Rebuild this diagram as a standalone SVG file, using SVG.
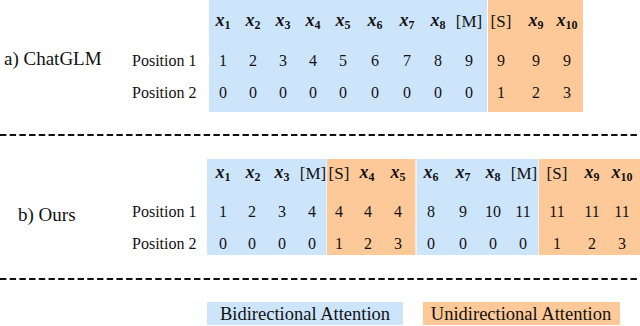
<svg xmlns="http://www.w3.org/2000/svg" width="640" height="326" viewBox="0 0 640 326" font-family="Liberation Serif, Tinos, Times New Roman, DejaVu Serif, serif">
<style>
text{font-family:'Liberation Serif',Tinos,'Times New Roman','DejaVu Serif',serif;fill:#111;}
.lbl{font-size:19px;}
.pos{font-size:16px;}
.num{font-size:16px;text-anchor:middle;}
.tok{font-size:18px;font-weight:bold;font-style:italic;text-anchor:middle;}
.sub{font-size:12px;font-style:normal;font-weight:bold;}
.sp{font-size:17px;text-anchor:middle;}
.leg{font-size:18.5px;text-anchor:middle;}
.bi{fill:#cde5fb;}
.uni{fill:#fec998;}
.dash{stroke:#111;stroke-width:2;stroke-dasharray:6.4 3.3;fill:none;}
</style>
<g id="separators">
<line class="dash" x1="0" y1="135" x2="640" y2="135"/>
<line class="dash" x1="0" y1="279" x2="640" y2="279"/>
</g>
<g id="chatglm">
<rect class="bi" x="209" y="0" width="278" height="112"/>
<rect class="uni" x="488" y="0" width="95" height="112"/>
<text class="lbl" x="4" y="65">a) ChatGLM</text>
<text class="pos" x="132" y="66">Position 1</text>
<text class="pos" x="132" y="98">Position 2</text>
<text class="tok" x="223" y="26">x<tspan class="sub" dy="3">1</tspan></text>
<text class="tok" x="253" y="26">x<tspan class="sub" dy="3">2</tspan></text>
<text class="tok" x="283" y="26">x<tspan class="sub" dy="3">3</tspan></text>
<text class="tok" x="313" y="26">x<tspan class="sub" dy="3">4</tspan></text>
<text class="tok" x="343" y="26">x<tspan class="sub" dy="3">5</tspan></text>
<text class="tok" x="375" y="26">x<tspan class="sub" dy="3">6</tspan></text>
<text class="tok" x="407" y="26">x<tspan class="sub" dy="3">7</tspan></text>
<text class="tok" x="438" y="26">x<tspan class="sub" dy="3">8</tspan></text>
<text class="sp" x="469" y="27">[M]</text>
<text class="sp" x="501" y="27">[S]</text>
<text class="tok" x="536" y="26">x<tspan class="sub" dy="3">9</tspan></text>
<text class="tok" x="567" y="26">x<tspan class="sub" dy="3">10</tspan></text>
<text class="num" x="223" y="66">1</text>
<text class="num" x="253" y="66">2</text>
<text class="num" x="283" y="66">3</text>
<text class="num" x="313" y="66">4</text>
<text class="num" x="343" y="66">5</text>
<text class="num" x="375" y="66">6</text>
<text class="num" x="407" y="66">7</text>
<text class="num" x="438" y="66">8</text>
<text class="num" x="469" y="66">9</text>
<text class="num" x="501" y="66">9</text>
<text class="num" x="536" y="66">9</text>
<text class="num" x="567" y="66">9</text>
<text class="num" x="223" y="98">0</text>
<text class="num" x="253" y="98">0</text>
<text class="num" x="283" y="98">0</text>
<text class="num" x="313" y="98">0</text>
<text class="num" x="343" y="98">0</text>
<text class="num" x="375" y="98">0</text>
<text class="num" x="407" y="98">0</text>
<text class="num" x="438" y="98">0</text>
<text class="num" x="469" y="98">0</text>
<text class="num" x="501" y="98">1</text>
<text class="num" x="536" y="98">2</text>
<text class="num" x="567" y="98">3</text>
</g>
<g id="ours">
<rect class="bi" x="207" y="159" width="119.5" height="96"/>
<rect class="uni" x="327" y="159" width="88.5" height="96"/>
<rect class="bi" x="416.5" y="159" width="122" height="96"/>
<rect class="uni" x="539" y="159" width="101" height="96"/>
<text class="lbl" x="18" y="221">b) Ours</text>
<text class="pos" x="132" y="217">Position 1</text>
<text class="pos" x="132" y="249">Position 2</text>
<text class="tok" x="223" y="178">x<tspan class="sub" dy="3">1</tspan></text>
<text class="tok" x="253" y="178">x<tspan class="sub" dy="3">2</tspan></text>
<text class="tok" x="282" y="178">x<tspan class="sub" dy="3">3</tspan></text>
<text class="sp" x="313" y="179">[M]</text>
<text class="sp" x="339" y="179">[S]</text>
<text class="tok" x="367" y="178">x<tspan class="sub" dy="3">4</tspan></text>
<text class="tok" x="398" y="178">x<tspan class="sub" dy="3">5</tspan></text>
<text class="tok" x="431" y="178">x<tspan class="sub" dy="3">6</tspan></text>
<text class="tok" x="463" y="178">x<tspan class="sub" dy="3">7</tspan></text>
<text class="tok" x="493" y="178">x<tspan class="sub" dy="3">8</tspan></text>
<text class="sp" x="524" y="179">[M]</text>
<text class="sp" x="557" y="179">[S]</text>
<text class="tok" x="592" y="178">x<tspan class="sub" dy="3">9</tspan></text>
<text class="tok" x="622" y="178">x<tspan class="sub" dy="3">10</tspan></text>
<text class="num" x="223" y="217">1</text>
<text class="num" x="252" y="217">2</text>
<text class="num" x="282" y="217">3</text>
<text class="num" x="312" y="217">4</text>
<text class="num" x="339" y="217">4</text>
<text class="num" x="368" y="217">4</text>
<text class="num" x="398" y="217">4</text>
<text class="num" x="431" y="217">8</text>
<text class="num" x="463" y="217">9</text>
<text class="num" x="493" y="217">10</text>
<text class="num" x="523" y="217">11</text>
<text class="num" x="557" y="217">11</text>
<text class="num" x="592" y="217">11</text>
<text class="num" x="622" y="217">11</text>
<text class="num" x="223" y="249">0</text>
<text class="num" x="252" y="249">0</text>
<text class="num" x="282" y="249">0</text>
<text class="num" x="312" y="249">0</text>
<text class="num" x="339" y="249">1</text>
<text class="num" x="368" y="249">2</text>
<text class="num" x="398" y="249">3</text>
<text class="num" x="431" y="249">0</text>
<text class="num" x="463" y="249">0</text>
<text class="num" x="493" y="249">0</text>
<text class="num" x="523" y="249">0</text>
<text class="num" x="557" y="249">1</text>
<text class="num" x="592" y="249">2</text>
<text class="num" x="622" y="249">3</text>
</g>
<g id="legend-bidirectional">
<rect class="bi" x="207" y="302" width="196" height="23"/>
<text class="leg" x="305" y="320">Bidirectional Attention</text>
</g>
<g id="legend-unidirectional">
<rect class="uni" x="423" y="302" width="197" height="23"/>
<text class="leg" x="521" y="320">Unidirectional Attention</text>
</g>
</svg>
